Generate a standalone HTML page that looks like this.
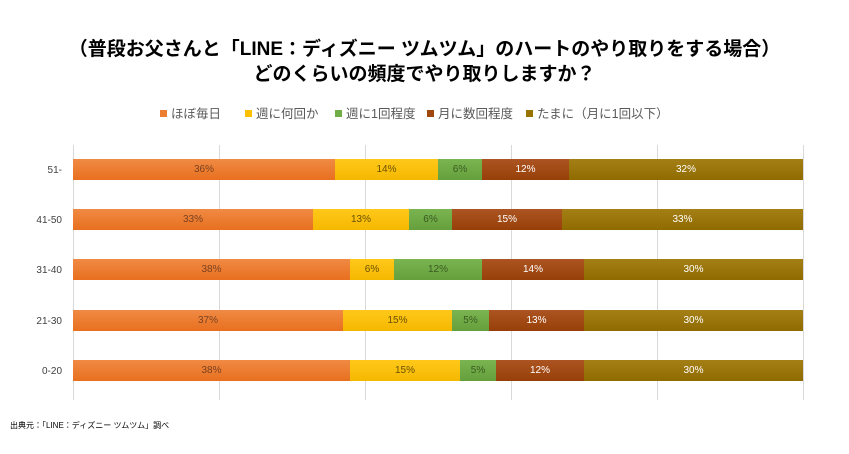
<!DOCTYPE html><html><head><meta charset="utf-8"><style>
body{margin:0;width:849px;height:454px;background:#fff;font-family:"Liberation Sans","Noto Sans CJK JP",sans-serif;position:relative;overflow:hidden}
.t{position:absolute;left:0;width:849px;text-align:center;font-weight:bold;font-size:19px;color:#000}
.lg{position:absolute;top:103px;font-size:12.5px;color:#595959;white-space:nowrap}
.lg span{display:inline-block;width:7px;height:7px;margin-right:4px;vertical-align:1px}
.g{position:absolute;top:145px;height:255px;width:1px;background:#d9d9d9}
.s{position:absolute;height:21px;font-size:10px;line-height:21px;text-align:center;color:#5a4a3a}
.cat{position:absolute;left:20px;width:42px;text-align:right;font-size:10px;color:#404040}
</style></head><body>
<div class="t" style="top:34px">（普段お父さんと「LINE：ディズニー ツムツム」のハートのやり取りをする場合）</div>
<div class="t" style="top:59px">どのくらいの頻度でやり取りしますか？</div>
<div class="lg" style="left:160px"><span style="background:#ed7d31"></span>ほぼ毎日</div>
<div class="lg" style="left:245px"><span style="background:#ffc000"></span>週に何回か</div>
<div class="lg" style="left:335px"><span style="background:#70ad47"></span>週に1回程度</div>
<div class="lg" style="left:427px"><span style="background:#9e480e"></span>月に数回程度</div>
<div class="lg" style="left:526px"><span style="background:#997300"></span>たまに（月に1回以下）</div>
<div class="g" style="left:73px"></div><div class="g" style="left:219px"></div><div class="g" style="left:365px"></div><div class="g" style="left:511px"></div><div class="g" style="left:657px"></div><div class="g" style="left:803px"></div>
<div id="bars"></div>
<div style="position:absolute;left:10px;top:420px;font-size:8px;color:#000">出典元：「LINE：ディズニー ツムツム」調べ</div>
<script>
var rows=[["51-",159,[73,335,438,482,569,803],["36%","14%","6%","12%","32%"]],
["41-50",209,[73,313,409,452,562,803],["33%","13%","6%","15%","33%"]],
["31-40",259,[73,350,394,482,584,803],["38%","6%","12%","14%","30%"]],
["21-30",310,[73,343,452,489,584,803],["37%","15%","5%","13%","30%"]],
["0-20",360,[73,350,460,496,584,803],["38%","15%","5%","12%","30%"]]];
var cols=[["#f08a44","#e8701f"],["#ffc81a","#f5b800"],["#7ab552","#65a03c"],["#ad5522","#963f08"],["#a37f16","#8f6b00"]];
var tc=["#7a4020","#6a5000","#3a5a20","#fff","#fff"];
var h="";rows.forEach(function(r){h+='<div class="cat" style="top:'+(r[1]+6)+'px">'+r[0]+'</div>';
for(var i=0;i<5;i++){h+='<div class="s" style="top:'+r[1]+'px;left:'+r[2][i]+'px;width:'+(r[2][i+1]-r[2][i])+'px;background:linear-gradient('+cols[i][0]+','+cols[i][1]+');color:'+tc[i]+'">'+r[3][i]+'</div>';}});
document.getElementById("bars").innerHTML=h;
</script>
</body></html>
